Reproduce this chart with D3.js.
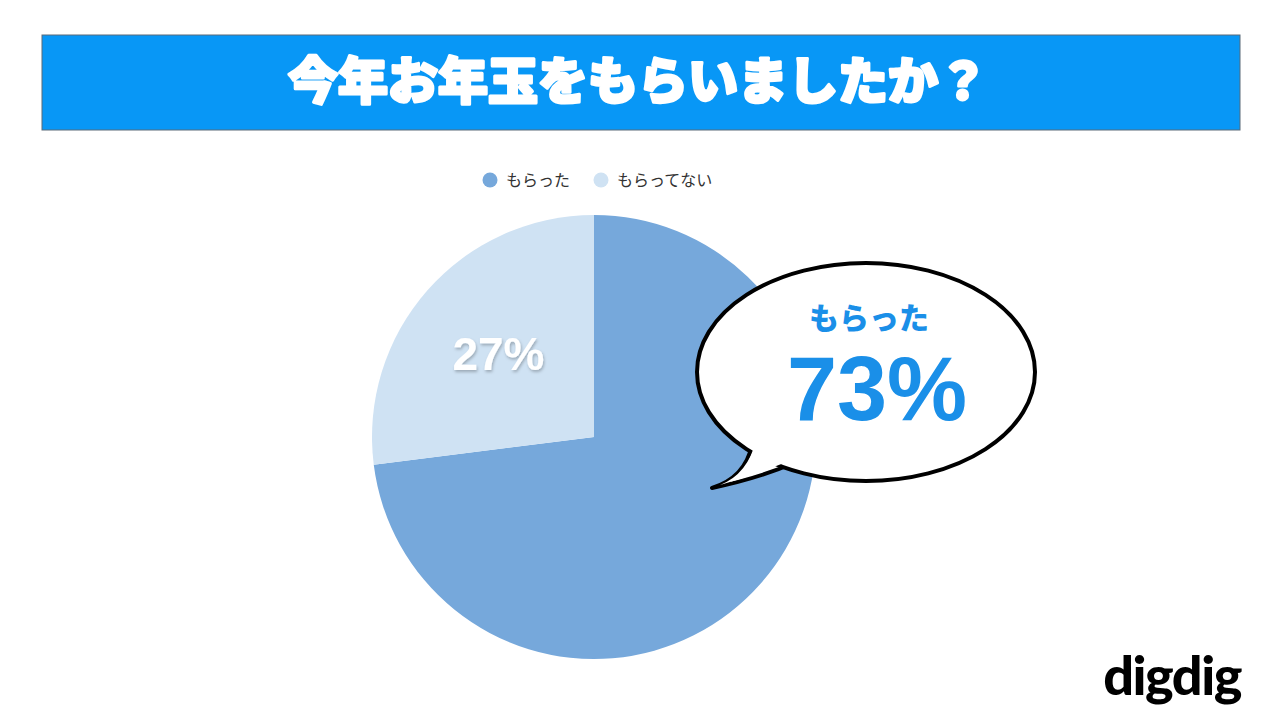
<!DOCTYPE html>
<html>
<head>
<meta charset="utf-8">
<script src="https://cdn.jsdelivr.net/npm/d3@7"></script>
<style>
  body { margin: 0; background: #fff; }
  svg { display: block; font-family: "Noto Sans CJK JP", "Noto Sans", sans-serif; }
</style>
</head>
<body>
<div id="chart"></div>
<script>
// data
const categories = ["もらった", "もらってない"]
const values = [73, 27]
const colors = ["#76a8db", "#cfe2f3"]
const titleText = "今年お年玉をもらいましたか？"

const W = 1280, H = 720
const svg = d3.select("#chart").append("svg").attr("width", W).attr("height", H)

// title bar
svg.append("rect")
  .attr("x", 42).attr("y", 35).attr("width", 1198).attr("height", 95)
  .attr("fill", "#0897f6").attr("stroke", "#5a6a78").attr("stroke-width", 1)
svg.append("text")
  .attr("x", 638).attr("y", 99)
  .attr("text-anchor", "middle")
  .attr("fill", "#fff")
  .attr("font-size", 50).attr("font-weight", 900)
  .attr("stroke", "#fff").attr("stroke-width", 3).attr("stroke-linejoin", "round")
  .text(titleText)

// legend
const legendX = [490, 601]
const legend = svg.append("g")
categories.forEach((c, i) => {
  legend.append("circle").attr("cx", legendX[i]).attr("cy", 180).attr("r", 7.5).attr("fill", colors[i])
  legend.append("text")
    .attr("x", legendX[i] + 16).attr("y", 186)
    .attr("font-size", 16).attr("fill", "#333")
    .text(c)
})

// pie
const cx = 594, cy = 437, r = 222
const pie = d3.pie().sort(null).value(d => d)
const arcs = pie(values)
const arc = d3.arc().innerRadius(0).outerRadius(r)
const g = svg.append("g").attr("transform", `translate(${cx}, ${cy})`)
g.selectAll("path")
  .data(arcs)
  .enter()
  .append("path")
  .attr("d", arc)
  .attr("fill", (d, i) => colors[i])

// 27% label inside the small slice
const defs = svg.append("defs")
defs.append("filter").attr("id", "shadow")
  .append("feDropShadow")
  .attr("dx", 1).attr("dy", 2).attr("stdDeviation", 1.5)
  .attr("flood-color", "#000").attr("flood-opacity", 0.25)
const labelArc = d3.arc().innerRadius(r * 0.55).outerRadius(r * 0.55)
const small = arcs[1]
const [lx, ly] = labelArc.centroid(small)
g.append("text")
  .attr("x", lx - 4).attr("y", ly + 14)
  .attr("text-anchor", "middle")
  .attr("font-family", "'Liberation Sans', Arial, sans-serif")
  .attr("font-size", 46).attr("font-weight", 700)
  .attr("fill", "#fff")
  .attr("filter", "url(#shadow)")
  .text(values[1] + "%")

// speech bubble
const bx = 866, by = 372, rx = 169, ry = 109
const bubble = svg.append("g")
const tail = d3.path()
tail.moveTo(752, 445)
tail.quadraticCurveTo(745, 478, 712, 488)
tail.quadraticCurveTo(760, 478, 796, 462)
bubble.append("path")
  .attr("d", tail.toString())
  .attr("fill", "#fff").attr("stroke", "#000").attr("stroke-width", 4).attr("stroke-linejoin", "round")
bubble.append("ellipse")
  .attr("cx", bx).attr("cy", by).attr("rx", rx).attr("ry", ry)
  .attr("fill", "#fff").attr("stroke", "#000").attr("stroke-width", 4)
// cover the seam between tail and ellipse
const seam = d3.path()
seam.moveTo(756, 440)
seam.quadraticCurveTo(748, 474, 720, 485)
seam.quadraticCurveTo(760, 474, 800, 456)
seam.closePath()
bubble.append("path").attr("d", seam.toString()).attr("fill", "#fff")

bubble.append("text")
  .attr("x", 869).attr("y", 329)
  .attr("text-anchor", "middle")
  .attr("font-size", 30).attr("font-weight", 900)
  .attr("fill", "#1a8fe8")
  .text(categories[0])
bubble.append("text")
  .attr("x", 877).attr("y", 420)
  .attr("text-anchor", "middle")
  .attr("font-family", "'Liberation Sans', Arial, sans-serif")
  .attr("font-size", 90).attr("font-weight", 700)
  .attr("fill", "#1a8fe8")
  .text(values[0] + "%")

// logo
svg.append("text")
  .attr("x", 1172).attr("y", 695)
  .attr("text-anchor", "middle")
  .attr("font-family", "Lato, Inter, sans-serif")
  .attr("font-size", 54).attr("font-weight", 900)
  .attr("letter-spacing", -1.5)
  .attr("fill", "#000")
  .text("digdig")
</script>
</body>
</html>
